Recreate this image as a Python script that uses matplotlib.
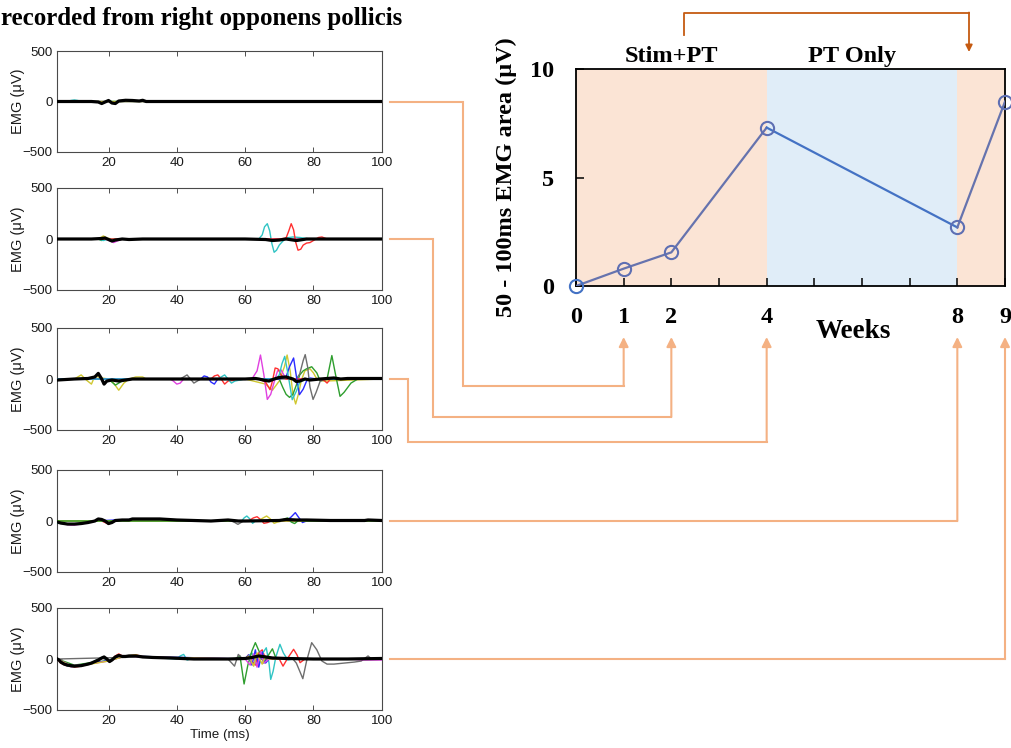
import matplotlib
matplotlib.use("Agg")
import matplotlib.pyplot as plt
from matplotlib.transforms import blended_transform_factory

W, H, DPI = 1012, 748, 100

# ---------------- summary data ----------------
weeks = [0, 1, 2, 4, 8, 9]
emg_area = [0.0, 0.8, 1.55, 7.3, 2.7, 8.5]
week_ticks = list(range(10))
week_tick_labels = ["0", "1", "2", "", "4", "", "", "", "8", "9"]
area_ticks = [0, 5, 10]
phase_spans = [(0, 4, "stim"), (4, 8, "pt"), (8, 9, "stim")]
phase_labels = [("Stim+PT", 2.0), ("PT Only", 5.8)]

# ---------------- EMG traces (time ms, amplitude uV) ----------------
C_B, C_G, C_R = "#2a2aff", "#2e9e2e", "#ff3030"
C_C, C_M, C_Y = "#30c4c4", "#e040e0", "#d0c830"
C_K, C_GR = "#000000", "#6e6e6e"

traces_week1 = [
    (C_C, [5, 8, 9, 10, 11, 12, 100], [0, 0, 10, 15, 10, 0, 0]),
    (C_G, [5, 11, 12, 13, 14, 100], [0, 0, -8, -8, 0, 0]),
    (C_M, [5, 20, 21, 22, 23, 100], [0, 0, -10, -15, 0, 0]),
    (C_Y, [5, 66, 67, 68, 100], [0, 0, -8, 0, 0]),
    (C_K, [5, 10, 15, 17, 18, 19, 20, 21, 22, 23, 25, 27, 29, 30, 31, 35, 100],
          [0, 0, 0, -5, -20, -5, 10, -15, -20, 5, 12, 10, 5, 12, 0, 0, 0]),
]

traces_week2 = [
    (C_G, [5, 17, 18, 19, 100], [0, 0, -15, 0, 0]),
    (C_Y, [5, 17, 18.5, 19.5, 21, 100], [0, 0, 30, 10, 0, 0]),
    (C_M, [5, 19, 20.5, 21.5, 22.5, 24, 100], [0, 0, -20, -35, -20, 0, 0]),
    (C_C, [5, 17, 18.5, 20, 64, 65, 65.7, 66.5, 67.2, 67.8, 68.5, 69.2, 70, 70.8, 72, 74, 76, 79, 100],
          [0, 0, -15, 0, 0, 40, 120, 150, 80, -40, -130, -110, -60, -30, 10, 20, 15, 0, 0]),
    (C_R, [5, 70, 72, 72.8, 73.5, 74.2, 74.8, 75.5, 76.3, 77, 78, 79, 80, 81.5, 82.5, 84, 100],
          [0, 0, 10, 80, 150, 90, -30, -110, -100, -60, -40, -35, -15, 15, 20, 0, 0]),
    (C_K, [5, 15, 18, 19, 20, 21, 22, 24, 26, 30, 60, 66, 68, 70, 72, 75, 76, 78, 80, 100],
          [0, 0, 5, 10, -5, -20, -10, 0, -5, 0, 0, -5, -15, -10, 0, -15, -10, 0, 0, 0]),
]

traces_week4 = [
    (C_Y, [5, 10, 12, 13.5, 15, 16, 18, 20, 21.5, 23, 24.5, 26, 28, 30, 31, 60, 66, 68, 70, 71.5,
           72.3, 73.2, 74, 74.8, 75.6, 76.5, 77.5, 79, 80, 81, 83, 100],
          [0, 0, 40, -10, -50, 30, 10, 0, -40, -110, -40, 0, 20, 20, 0, 0, -50, -110, -20, 120,
           235, 80, -150, -245, -150, -10, 80, 100, 60, 0, -20, 0]),
    (C_G, [5, 20, 21, 22, 23, 25, 62, 70, 71, 72, 73, 74, 75, 76, 77, 78, 79.5, 81, 82, 84,
           85.4, 86.5, 87.8, 89, 91, 93, 100],
          [0, 0, -30, -60, -40, 0, 0, 0, -80, -150, -180, -150, -60, 40, 80, 100, 120, 60, -20, 0,
           230, 40, -170, -130, -40, 0, 0]),
    (C_M, [5, 38, 39, 40, 41, 42, 60, 62, 63.5, 64.5, 65.5, 66.5, 67.5, 68.5, 69.5, 70.5, 71.5, 73, 100],
          [0, 0, -20, -50, -40, 0, 0, 0, 80, 235, 40, -200, -150, -30, 80, 90, 30, 0, 0]),
    (C_GR, [5, 41, 42, 43, 44, 45, 46, 47, 60, 75, 76, 77, 77.6, 78.3, 79, 79.9, 80.8, 82, 84, 100],
           [0, 0, 20, 40, 0, -40, -20, 0, 0, 0, 50, 180, 239, 120, -80, -200, -130, -20, 0, 0]),
    (C_R, [5, 50, 51, 52, 53, 54, 55, 60, 64, 66, 67.3, 68, 68.8, 69.6, 70.5, 72, 82, 83, 84, 85, 100],
          [0, 0, 30, 40, 0, -50, -20, 0, 0, -30, -105, -20, 108, 100, 40, 0, 0, -10, -40, 0, 0]),
    (C_B, [5, 47, 48, 49, 50, 51, 52, 60, 70, 72, 73, 74.2, 75, 75.9, 77, 78, 79, 81, 100],
          [0, 0, 30, 20, -30, -50, 0, 0, 0, 20, 120, 206, 30, -154, -100, -20, 10, 0, 0]),
    (C_C, [5, 52, 53, 54, 55, 56, 57, 60, 69, 70, 70.8, 71.6, 72.5, 73.8, 75, 76, 78, 100],
          [0, 0, 20, 40, 0, -40, -20, 0, 0, 40, 150, 222, 60, -203, -120, -30, 0, 0]),
    (C_K, [5, 10, 14, 16, 17, 18, 18.7, 19.5, 21, 23, 25, 27, 30, 60, 63, 64, 66, 67, 68.5, 70, 72,
           74, 75, 76, 77.5, 79, 80.5, 82, 84, 86, 88, 90, 100],
          [-10, 0, 5, 20, 55, 0, -50, -20, -10, -20, -10, 0, 0, 0, 5, 0, -15, -20, 0, 15, 20,
           0, -25, -20, 0, -10, -5, 0, 5, 10, 0, 5, 5]),
]

traces_week8 = [
    (C_M, [5, 7, 9, 10, 12, 14, 17, 100], [-10, -30, -40, -40, -30, -10, 0, 0]),
    (C_C, [5, 8, 12, 16, 59, 59.7, 60.5, 61.4, 62.2, 63, 100],
          [-20, -30, -25, 0, 0, 30, 49, 20, -23, 0, 0]),
    (C_B, [5, 16, 22, 27, 35, 40, 72, 73.5, 74.7, 75.8, 76.8, 78, 100],
          [0, 0, 10, 15, 15, 0, 0, 40, 82, 30, -15, 0, 0]),
    (C_R, [5, 18, 20, 21, 22, 61, 62.4, 63.5, 64.7, 65.5, 66.6, 67.5, 69, 100],
          [0, 0, -30, -15, 0, 0, 30, 42, 10, -23, -15, 0, 0, 0]),
    (C_GR, [5, 56, 57, 57.9, 58.8, 59.5, 100], [0, 0, -15, -33, -15, 0, 0]),
    (C_Y, [5, 64, 65, 66.3, 67.4, 68.5, 69.5, 71, 100], [0, 0, 25, 49, 20, -23, -10, 0, 0]),
    (C_G, [5, 70, 71.5, 72.5, 73.5, 74.5, 75.8, 77, 100], [0, 0, 20, 30, -10, -25, 10, 0, 0]),
    (C_K, [5, 6, 8, 10, 12, 14, 16, 17, 18, 19, 20, 21, 22, 24, 26, 27, 30, 35, 40, 50, 55, 58,
           60, 70, 72, 75, 78, 85, 90, 95, 96, 100],
          [-10, -20, -30, -30, -25, -15, 0, 20, 15, 0, -25, -15, 5, 10, 10, 20, 20, 20, 10, 0, 10, 0,
           0, 5, 15, 10, 10, 5, 5, 5, 10, 5]),
]

traces_week9 = [
    (C_R, [5, 6, 8, 10, 12, 15, 18, 20, 21, 22, 23, 24, 26, 28, 30, 35, 40, 55, 60, 61, 62, 63,
           64, 65, 66, 70, 71.1, 72.5, 74.2, 75.2, 76.1, 77.5, 79, 100],
          [0, -40, -70, -80, -70, -40, 10, -15, 0, 30, 50, 30, 30, 40, 25, 15, 5, 0, 0, 40, -20, -60,
           60, 90, 0, 0, -70, 10, 95, 40, -36, 0, 0, 0]),
    (C_C, [5, 8, 10, 12, 15, 18, 20, 22, 26, 30, 40, 41, 42, 43, 44, 60, 62, 63, 64, 65, 66.2,
           67, 67.5, 68.2, 69, 70.2, 71.2, 72.5, 74, 100],
          [0, -70, -75, -60, -35, 15, -20, 25, 30, 20, 0, 30, 45, -10, 0, 0, 60, -40, -60, 50, 110,
           -40, -200, -120, 20, 144, 60, -10, 0, 0]),
    (C_G, [5, 10, 15, 20, 25, 30, 56, 57, 58.5, 59.7, 60.8, 62, 63, 64.3, 65.5, 66.5, 68, 69, 70, 100],
          [0, -60, -35, -15, 30, 25, 0, 0, 30, -245, -60, 80, 160, 60, -40, 20, 100, 10, 0, 0]),
    (C_GR, [5, 30, 50, 55, 56.9, 58, 59, 60, 61, 74, 75, 76, 76.9, 78, 79.5, 81, 82.5, 84, 86,
            89, 92, 94, 96, 97, 100],
           [0, 20, 0, 0, -70, 45, 10, 0, 0, 0, -40, -120, -193, -20, 160, 90, -20, -50, -50,
            -40, -30, -20, 30, 0, 0]),
    (C_B, [5, 9, 12, 20, 25, 30, 60, 61, 62, 63, 64, 65, 66, 67, 100],
          [0, -75, -60, -15, 30, 25, 0, 40, -60, 90, -80, 70, -40, 0, 0]),
    (C_M, [5, 9, 12, 20, 25, 30, 60, 61.5, 62.5, 63.5, 64.5, 65.5, 67, 90, 95, 100],
          [0, -65, -60, -20, 30, 20, 0, -60, 50, -80, 70, -40, 0, 0, -10, -10]),
    (C_Y, [5, 9, 12, 20, 25, 28, 30, 60, 61, 62.5, 63.5, 65, 66, 67, 100],
          [0, -70, -65, -20, 30, 40, 20, 0, 30, -70, 60, -50, 30, 0, 0]),
    (C_K, [5, 5.5, 6, 7, 8, 9, 10, 12, 14, 15, 16, 17, 18, 18.7, 19.5, 20.3, 21, 22, 23, 24, 25,
           26, 27, 28, 30, 33, 38, 45, 50, 55, 60, 62, 64, 66, 68, 72, 80, 90, 100],
          [0, -10, -30, -50, -60, -65, -70, -65, -50, -40, -25, -10, 10, 20, 0, -25, -10, 20, 35, 25,
           25, 30, 30, 30, 20, 15, 10, 0, 0, 0, 5, 15, 30, 20, 10, 5, 0, 0, 5]),
]

emg_panels = [traces_week1, traces_week2, traces_week4, traces_week8, traces_week9]
panel_weeks = [1, 2, 4, 8, 9]
time_ticks = [20, 40, 60, 80, 100]
emg_ticks = [-500, 0, 500]

title_text = "recorded from right opponens pollicis"

# ---------------- styling ----------------
SANS = ["Liberation Sans", "DejaVu Sans"]
SERIF = ["Liberation Serif", "DejaVu Serif"]
STIM_BG, PT_BG = "#fbe4d5", "#e0edf8"
ARROW_C, TOP_ARROW_C = "#f4b183", "#c55a11"

fig = plt.figure(figsize=(W / DPI, H / DPI), dpi=DPI)


def px_axes(left, top, right, bottom):
    return fig.add_axes([left / W, 1 - bottom / H, (right - left) / W, (bottom - top) / H])


# ---------------- EMG panels ----------------
panel_rows = [(51, 152), (188, 290), (328, 430), (470, 572), (608, 710)]
emg_axes = []
for i, (traces, (top, bot)) in enumerate(zip(emg_panels, panel_rows)):
    ax = px_axes(57.3, top, 381.7, bot)
    for color, t, v in traces:
        if color == C_K:
            ax.plot(t, v, color=color, lw=2.3, zorder=5, solid_joinstyle="round")
        else:
            ax.plot(t, v, color=color, lw=1.0, zorder=3, solid_joinstyle="round")
    ax.set_xlim(5, 100)
    ax.set_ylim(-500, 500)
    ax.set_xticks(time_ticks)
    ax.set_yticks(emg_ticks)
    ax.tick_params(direction="in", top=True, right=True, length=3.5, width=0.6,
                   color="#333333", labelsize=9.6, pad=3.5, labelcolor="#1a1a1a")
    for lab in ax.get_xticklabels() + ax.get_yticklabels():
        lab.set_family(SANS)
    for s in ax.spines.values():
        s.set_color("#4a4a4a")
        s.set_linewidth(0.8)
    ax.set_ylabel("EMG (μV)", fontsize=10.5, family=SANS, color="#1a1a1a")
    ax.yaxis.set_label_coords(-0.10, 0.5)
    if i == len(emg_panels) - 1:
        ax.set_xlabel("Time (ms)", fontsize=9.6, family=SANS, color="#1a1a1a", labelpad=1.5)
    emg_axes.append(ax)

# ---------------- summary chart ----------------
axc = px_axes(576, 69, 1005, 286)
for x0, x1, kind in phase_spans:
    axc.axvspan(x0, x1, color=STIM_BG if kind == "stim" else PT_BG, lw=0, zorder=0)

seg_colors = ["#6673ae", "#4472c4", "#6673ae"]
seg_bounds = [(0, 4), (3, 5), (4, 6)]
for (a, b), c in zip(seg_bounds, seg_colors):
    axc.plot(weeks[a:b], emg_area[a:b], color=c, lw=1.6, zorder=3)
marker_edges = ["#4472c4"] + ["#5e6fb3"] * (len(weeks) - 1)
for w, v, ec in zip(weeks, emg_area, marker_edges):
    axc.plot([w], [v], marker="o", ms=9.5, mfc="none", mec=ec, mew=1.5,
             zorder=4, clip_on=False)

axc.set_xlim(0, 9)
axc.set_ylim(0, 10)
axc.set_xticks(week_ticks)
axc.set_xticklabels(week_tick_labels)
axc.set_yticks(area_ticks)
axc.tick_params(direction="in", length=6, width=1.1, labelsize=17.5, color="black")
axc.tick_params(axis="x", pad=15)
axc.tick_params(axis="y", pad=16)
for lab in axc.get_xticklabels() + axc.get_yticklabels():
    lab.set_family(SERIF)
    lab.set_fontweight("bold")
for s in axc.spines.values():
    s.set_color("black")
    s.set_linewidth(1.3)

bold_serif = dict(family=SERIF, fontweight="bold", color="black")
axc.text(-0.163, 0.5, "50 - 100ms EMG area (μV)", transform=axc.transAxes,
         rotation=90, ha="center", va="center", fontsize=17.5, **bold_serif)
axc.text(0.647, -0.24, "Weeks", transform=axc.transAxes, ha="center",
         va="baseline", fontsize=19.5, **bold_serif)
top_tr = blended_transform_factory(axc.transData, axc.transAxes)
for text, xpos in phase_labels:
    axc.text(xpos, 1.034, text, transform=top_tr, ha="center", va="baseline",
             fontsize=17.5, **bold_serif)

fig.text(1 / W, 1 - 25 / H, title_text, ha="left", va="baseline", fontsize=18, **bold_serif)

# ---------------- connector arrows (overlay in pixel space) ----------------
ov = fig.add_axes([0, 0, 1, 1], zorder=10)
ov.set_xlim(0, W)
ov.set_ylim(H, 0)
ov.axis("off")
ov.patch.set_alpha(0)

elbow_x = [463, 433, 408, None, None]
elbow_y = [386, 417, 442, None, None]
tip_y = 337
arrow_kw = dict(arrowstyle="-|>", color=ARROW_C, lw=1.5, mutation_scale=14,
                shrinkA=0, shrinkB=0)
for ax, wk, ex, ey in zip(emg_axes, panel_weeks, elbow_x, elbow_y):
    sx, sy = ax.transData.transform((100, 0))
    sy = H - sy
    sx += 8
    wx = axc.transData.transform((wk, 0))[0]
    if ex is None:
        pts = [(sx, sy), (wx, sy)]
        last = sy
    else:
        pts = [(sx, sy), (ex, sy), (ex, ey), (wx, ey)]
        last = ey
    ov.plot([p[0] for p in pts], [p[1] for p in pts], color=ARROW_C, lw=1.5,
            solid_joinstyle="miter")
    ov.annotate("", xy=(wx, tip_y), xytext=(wx, last), arrowprops=arrow_kw)

ov.plot([684.5, 684.5, 969], [35, 12.5, 12.5], color=TOP_ARROW_C, lw=1.3)
ov.annotate("", xy=(969, 52), xytext=(969, 12.5),
            arrowprops=dict(arrowstyle="-|>", color=TOP_ARROW_C, lw=1.3,
                            mutation_scale=10, shrinkA=0, shrinkB=0))

fig.savefig("out.png", dpi=DPI)
